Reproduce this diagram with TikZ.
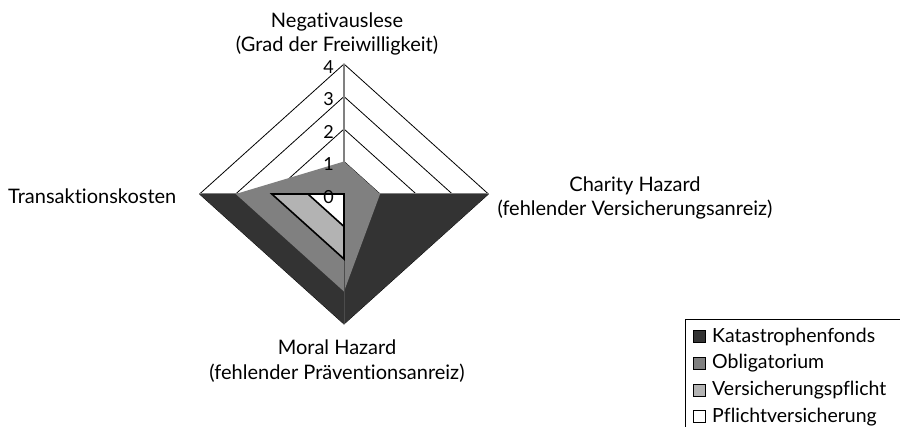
\documentclass[tikz,border=0pt]{standalone}
\usepackage{fontspec}
\setmainfont{Lato}[Ligatures=NoCommon]
\definecolor{darkser}{HTML}{333333}
\definecolor{midser}{HTML}{808080}
\definecolor{lightser}{HTML}{B3B3B3}
\tikzset{
	ring/.style={draw=black, line width=0.8pt},
	spoke/.style={draw=midser, line width=1.2pt},
	axislabel/.style={align=center, font=\fontsize{20}{24.5}\selectfont, inner sep=0pt},
	ticklabel/.style={anchor=east, font=\fontsize{18}{20}\selectfont, inner sep=0pt},
	legendbox/.style={draw=black, line width=1pt, minimum size=12pt, inner sep=0pt},
	legendtext/.style={anchor=west, font=\fontsize{19.5}{20}\selectfont, inner sep=0pt}
}
\begin{document}
\begin{tikzpicture}[x=1pt, y=-1pt]
	\clip (0,0) rectangle (900,426);
	\fill[white] (0,0) rectangle (900,426);
	% grid
	\foreach \r in {1,2,3,4}
		\draw[ring] ({344-36.1*\r},194) -- (344,{194-32.5*\r}) -- ({344+36.1*\r},194) -- (344,{194+32.5*\r}) -- cycle;
	\draw[spoke] (199.6,194) -- (488.4,194);
	\draw[spoke] (344,64) -- (344,324);
	% series
	\fill[darkser] (344,194) -- (488.4,194) -- (344,324) -- (199.6,194) -- cycle;
	\fill[midser] (344,161.5) -- (380.1,194) -- (344,291.5) -- (235.7,194) -- cycle;
	\draw[spoke] (344,64) -- (344,194);
	\draw[line width=0.6pt, black!70] (344,259) -- (344,324);
	\filldraw[fill=lightser, draw=black, line width=1.6pt] (344,194) -- (344,259) -- (271.8,194) -- cycle;
	\filldraw[fill=white, draw=black, line width=1.6pt] (344,194) -- (344,226.5) -- (307.9,194) -- cycle;
	% ticks
	\foreach \r in {0,1,2,3,4}
		\node[ticklabel] (t\r) at (334,{197-32.5*\r}) {\r};
	% axis labels
	\node[axislabel] (neg) at (337,34) {Negativauslese\\(Grad der Freiwilligkeit)};
	\node[axislabel] (cha) at (635,198) {Charity Hazard\\(fehlender Versicherungsanreiz)};
	\node[axislabel, anchor=west] (tra) at (8,196) {Transaktionskosten};
	\node[axislabel] (mor) at (337,361) {Moral Hazard\\(fehlender Präventionsanreiz)};
	% legend
	\draw[line width=1pt] (685,319.5) rectangle (910,440);
	\node[legendbox, fill=darkser] (k1) at (699,336.7) {};
	\node[legendbox, fill=midser] (k2) at (699,363.4) {};
	\node[legendbox, fill=lightser] (k3) at (699,390.1) {};
	\node[legendbox, fill=white] (k4) at (699,416.8) {};
	\node[legendtext] (l1) at (712,336.7) {Katastrophenfonds};
	\node[legendtext] (l2) at (712,363.4) {Obligatorium};
	\node[legendtext] (l3) at (712,390.1) {Versicherungspflicht};
	\node[legendtext] (l4) at (712,416.8) {Pflichtversicherung};
\end{tikzpicture}
\end{document}
